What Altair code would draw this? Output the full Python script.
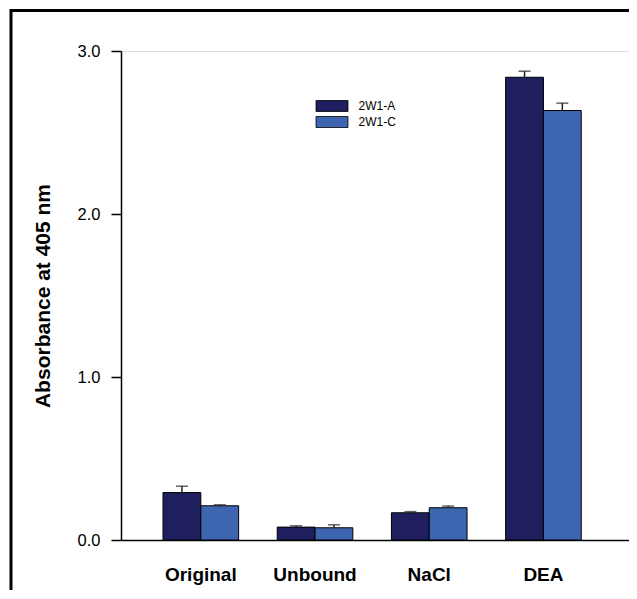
import altair as alt
import pandas as pd

categories = ["Original", "Unbound", "NaCl", "DEA"]
series = ["2W1-A", "2W1-C"]
values_a = [0.291, 0.079, 0.167, 2.839]
values_c = [0.210, 0.075, 0.198, 2.635]
errors_a = [0.039, 0.008, 0.007, 0.037]
errors_c = [0.006, 0.018, 0.010, 0.045]
colors = ["#1f1e5e", "#3e66b0"]

rows = []
for i, c in enumerate(categories):
    rows.append({"cat": c, "series": series[0], "val": values_a[i], "top": values_a[i] + errors_a[i]})
    rows.append({"cat": c, "series": series[1], "val": values_c[i], "top": values_c[i] + errors_c[i]})
df = pd.DataFrame(rows)

FONT = "Liberation Sans"

xscale = alt.Scale(domain=categories, paddingInner=0.338, paddingOuter=0.393, align=0.468)
x = alt.X("cat:N", scale=xscale, sort=categories,
          axis=alt.Axis(title=None, labelAngle=0, ticks=False, labelPadding=25,
                        labelFont=FONT, labelFontSize=19, labelFontWeight="bold",
                        labelColor="black", domainColor="black", domainWidth=1.5))
xo = alt.XOffset("series:N", scale=alt.Scale(domain=series, paddingInner=0, paddingOuter=0))
yscale = alt.Scale(domain=[0, 3], nice=False)
yaxis = alt.Axis(title="Absorbance at 405 nm", values=[0, 1, 2, 3], format=".1f",
                 tickSize=10, tickColor="black", tickWidth=1.5, domainColor="black",
                 domainWidth=1.5, grid=False, labelFont=FONT, labelFontSize=16.5,
                 labelColor="black", labelPadding=11, titleFont=FONT, titleFontSize=21,
                 titleFontWeight="bold", titleColor="black", titlePadding=24)

base = alt.Chart(df)

bars = base.mark_bar(stroke="black", strokeWidth=1).encode(
    x=x, xOffset=xo,
    y=alt.Y("val:Q", scale=yscale, axis=yaxis),
    color=alt.Color("series:N", scale=alt.Scale(domain=series, range=colors),
                    legend=alt.Legend(title=None, orient="none", legendX=205, legendY=49,
                                      padding=0, labelFont=FONT, labelFontSize=12,
                                      labelColor="black", labelOffset=20.5, rowPadding=0,
                                      symbolType="M-5.333,-1.833H5.333V1.833H-5.333Z", symbolSize=36,
                                      symbolStrokeColor="black", symbolStrokeWidth=0.8)),
)

err = base.mark_rule(color="#222222", strokeWidth=1.5).encode(
    x=alt.X("cat:N", scale=xscale, sort=categories), xOffset=xo,
    y=alt.Y("val:Q", scale=yscale), y2="top:Q",
)
caps = base.mark_tick(color="#222222", thickness=1.5, size=12, orient="horizontal").encode(
    x=alt.X("cat:N", scale=xscale, sort=categories), xOffset=xo,
    y=alt.Y("top:Q", scale=yscale),
)

outer = alt.Chart(pd.DataFrame({"a": [0]})).mark_rect(
    fill="transparent", stroke="black", strokeWidth=3
).encode(
    x=alt.value(-110), x2=alt.value(700), y=alt.value(-40.5), y2=alt.value(700)
)

chart = alt.layer(bars, err, caps, outer).properties(
    width=508, height=489,
    autosize=alt.AutoSizeParams(type="none"),
    padding={"left": 113, "top": 43, "right": 0, "bottom": 50},
).configure_view(stroke="black", strokeWidth=1.5).configure(background="white")

chart.save("out.html", embed_options={"renderer": "svg", "actions": False})
